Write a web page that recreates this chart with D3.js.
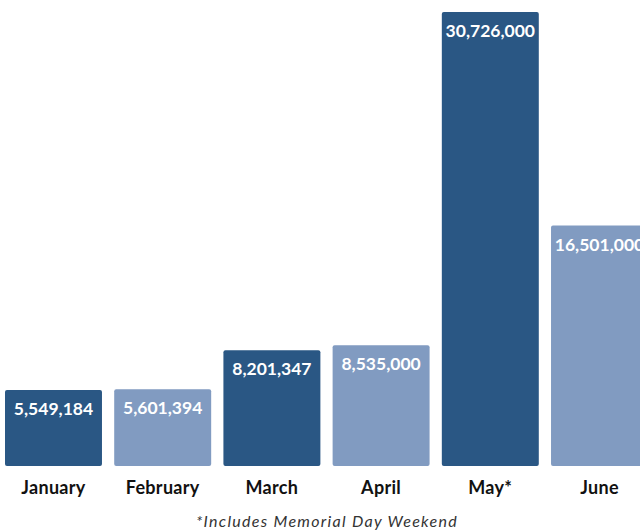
<!DOCTYPE html>
<html>
<head>
<meta charset="utf-8">
<script src="https://cdn.jsdelivr.net/npm/d3@7.9.0/dist/d3.min.js"></script>
<style>
  body { margin: 0; background: #fff; }
  svg { display: block; }
  .value { font-family: Lato, sans-serif; font-weight: 700; fill: #fff; }
  .month { font-family: Lato, sans-serif; font-weight: 700; fill: #111; }
  .note { font-family: Lato, sans-serif; font-style: italic; fill: #333; }
</style>
</head>
<body>
<svg width="640" height="531"></svg>
<script>
const months = ['January', 'February', 'March', 'April', 'May*', 'June'];
const visitors = [5549184, 5601394, 8201347, 8535000, 30726000, 16501000];
const shades = ['dark', 'light', 'dark', 'light', 'dark', 'light'];

const colors = { dark: '#2a5784', light: '#819bc1' };

const svg = d3.select('svg');

const x = d3.scaleBand()
  .domain(months)
  .range([5, 648])
  .paddingInner(0.112)
  .paddingOuter(0);

// bars don't start at zero in the original
const y = d3.scaleLinear()
  .domain([486000, 30726000])
  .range([466, 12]);

const data = months.map((m, i) => ({ month: m, value: visitors[i], shade: shades[i] }));

svg.selectAll('rect.bar')
  .data(data)
  .join('rect')
  .attr('class', 'bar')
  .attr('x', d => x(d.month))
  .attr('y', d => y(d.value))
  .attr('width', x.bandwidth())
  .attr('height', d => y.range()[0] - y(d.value))
  .attr('rx', 2)
  .attr('fill', d => colors[d.shade]);

svg.selectAll('text.value')
  .data(data)
  .join('text')
  .attr('class', 'value')
  .attr('x', d => x(d.month) + x.bandwidth() / 2)
  .attr('y', d => y(d.value) + 25)
  .attr('text-anchor', 'middle')
  .attr('font-size', 17.5)
  .text(d => d3.format(',')(d.value));

svg.selectAll('text.month')
  .data(data)
  .join('text')
  .attr('class', 'month')
  .attr('x', d => x(d.month) + x.bandwidth() / 2)
  .attr('y', 494)
  .attr('text-anchor', 'middle')
  .attr('font-size', 18)
  .attr('letter-spacing', 0.3)
  .text(d => d.month);

svg.append('text')
  .attr('class', 'note')
  .attr('x', 327)
  .attr('y', 527)
  .attr('text-anchor', 'middle')
  .attr('font-size', 16)
  .attr('letter-spacing', 1.3)
  .text('*Includes Memorial Day Weekend');
</script>
</body>
</html>
